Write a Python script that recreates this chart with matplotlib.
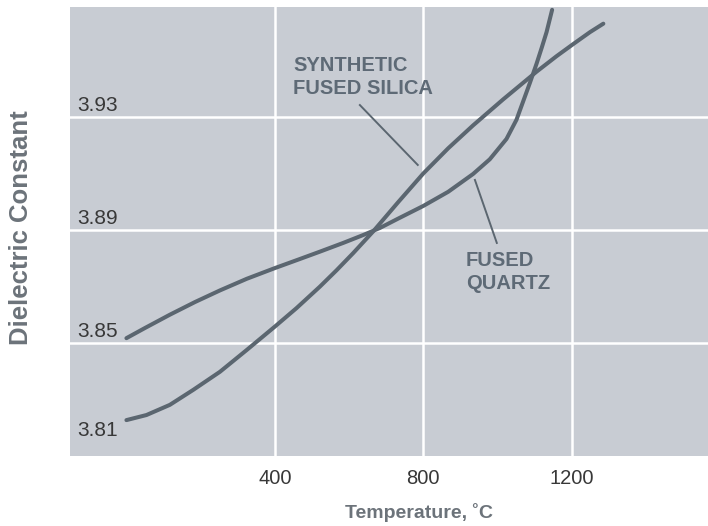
import numpy as np
import matplotlib
matplotlib.use('Agg')
import matplotlib.pyplot as plt
import matplotlib.transforms as mtransforms

plt.rcParams['font.family'] = ['Liberation Sans', 'DejaVu Sans']

# values
silica_temp = [0, 54, 117, 180, 252, 324, 400, 458, 521, 566, 611, 665, 732, 800,
               867, 934, 1015, 1105, 1159, 1204, 1249, 1285]
silica_dk = [3.8227, 3.8245, 3.8281, 3.8334, 3.8398, 3.8475, 3.8558, 3.8623, 3.8699, 3.8757,
             3.8818, 3.8895, 3.8998, 3.9100, 3.9189, 3.9270, 3.9362, 3.9460, 3.9515, 3.9558,
             3.9600, 3.9630]

quartz_temp = [0, 50, 117, 185, 252, 324, 400, 467, 521, 584, 638, 683, 732, 800, 867,
               934, 979, 1024, 1051, 1069, 1087, 1105, 1119, 1132, 1147]
quartz_dk = [3.8517, 3.8553, 3.8600, 3.8645, 3.8686, 3.8727, 3.8765, 3.8797, 3.8823, 3.8854,
             3.8882, 3.8907, 3.8940, 3.8985, 3.9035, 3.9098, 3.9150, 3.9222, 3.9290, 3.9355,
             3.9420, 3.9488, 3.9545, 3.9600, 3.9679]

x_ticks = [400, 800, 1200]
y_ticks = [3.81, 3.85, 3.89, 3.93]
y_tick_labels = ['3.81', '3.85', '3.89', '3.93']

bg = '#c8ccd3'
line_col = '#5b6670'
label_col = '#5e6a76'
axis_col = '#6c737a'

fig = plt.figure(figsize=(7.08, 5.26), dpi=100)
ax = fig.add_axes([70/708, 70/526, 638/708, 449/526])
ax.set_facecolor(bg)
for s in ax.spines.values():
    s.set_visible(False)

ax.set_xlim(-152, 1567)
ax.set_ylim(3.81, 3.9689)

for x in x_ticks:
    ax.axvline(x, color='white', lw=1.8, zorder=1)
for y in y_ticks[1:]:
    ax.axhline(y, color='white', lw=1.8, zorder=1)

ax.plot(silica_temp, silica_dk, color=line_col, lw=2.9, solid_capstyle='round',
        solid_joinstyle='round', zorder=3)
ax.plot(quartz_temp, quartz_dk, color=line_col, lw=2.9, solid_capstyle='round',
        solid_joinstyle='round', zorder=3)

ax.set_xticks(x_ticks)
ax.set_xticklabels([str(x) for x in x_ticks], fontsize=14.5, color='#383838')
ax.tick_params(axis='x', length=0, pad=9)
ax.set_yticks([])

# y labels sit inside the plot, above their grid line
trans = mtransforms.blended_transform_factory(ax.transAxes, ax.transData)
for y, lab in zip(y_ticks, y_tick_labels):
    off = 18 if y == y_ticks[0] else 8
    ax.annotate(lab, xy=(0.012, y), xycoords=trans, xytext=(0, off), textcoords='offset points',
                ha='left', va='center', fontsize=15, color='#383838')

fig.text(419/708, 1 - 512/526, 'Temperature, \u02daC', fontsize=14, fontweight='bold',
         color=axis_col, ha='center', va='center')
fig.text(21/708, 1 - 228/526, 'Dielectric Constant', fontsize=18.5, fontweight='bold',
         color=axis_col, ha='center', va='center', rotation=90)

# callouts
ax.plot([629, 785], [3.9342, 3.913], color=line_col, lw=1.4, zorder=2)
ax.text(449, 3.9442, 'SYNTHETIC\nFUSED SILICA', fontsize=14.5, fontweight='bold', color=label_col,
        ha='left', va='center', linespacing=1.25)
ax.plot([939, 998], [3.9077, 3.8854], color=line_col, lw=1.4, zorder=2)
ax.text(915, 3.8751, 'FUSED\nQUARTZ', fontsize=14.5, fontweight='bold', color=label_col,
        ha='left', va='center', linespacing=1.25)

fig.savefig('out.png', dpi=100)
